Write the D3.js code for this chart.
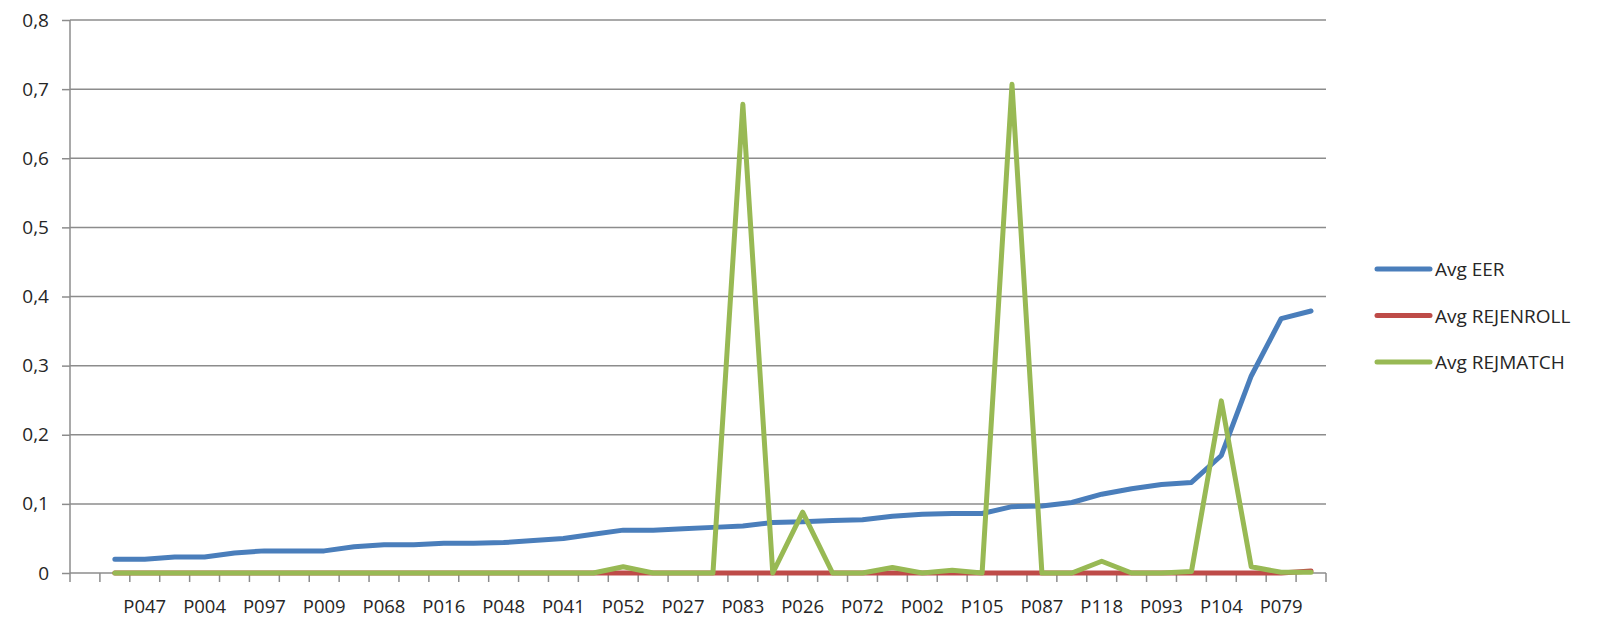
<!DOCTYPE html>
<html>
<head>
<meta charset="utf-8">
<script src="https://cdn.jsdelivr.net/npm/d3@7"></script>
<style>
  html, body { margin: 0; padding: 0; background: #fff; }
  svg { display: block; }
  text { font-family: "Open Sans", sans-serif; fill: #262626; }
</style>
</head>
<body>
<svg id="chart" width="1615" height="619"></svg>
<script>
// ---- data (index 0 is an empty category; odd labels are not shown on the axis) ----
const categories = ["", "", "P047", "", "P004", "", "P097", "", "P009", "", "P068", "", "P016", "", "P048", "", "P041", "",
  "P052", "", "P027", "", "P083", "", "P026", "", "P072", "", "P002", "", "P105", "", "P087", "", "P118", "",
  "P093", "", "P104", "", "P079", ""];
const avgEER = [null, 0.020, 0.020, 0.023, 0.023, 0.029, 0.032, 0.032, 0.032, 0.038, 0.041, 0.041, 0.043, 0.043,
  0.044, 0.047, 0.050, 0.056, 0.062, 0.062, 0.064, 0.066, 0.068, 0.073, 0.074, 0.076, 0.077, 0.082, 0.085,
  0.086, 0.086, 0.096, 0.097, 0.102, 0.114, 0.122, 0.128, 0.131, 0.170, 0.285, 0.368, 0.379];
const avgRejEnroll = [null, 0, 0, 0, 0, 0, 0, 0, 0, 0, 0, 0, 0, 0, 0, 0, 0, 0, 0, 0, 0, 0, 0, 0, 0, 0, 0, 0,
  0, 0, 0, 0, 0, 0, 0, 0, 0, 0, 0, 0, 0, 0.003];
const avgRejMatch = [null, 0, 0, 0, 0, 0, 0, 0, 0, 0, 0, 0, 0, 0, 0, 0, 0, 0, 0.009, 0, 0, 0, 0.678, 0, 0.088,
  0, 0, 0.008, 0, 0.004, 0, 0.707, 0, 0, 0.017, 0, 0, 0.002, 0.249, 0.009, 0.001, 0.001];
const yTicks = [0, 0.1, 0.2, 0.3, 0.4, 0.5, 0.6, 0.7, 0.8];
const seriesNames = ["Avg EER", "Avg REJENROLL", "Avg REJMATCH"];
const seriesColors = ["#4a7ebb", "#be4b48", "#98b954"];

(function () {
// ---- layout ----
const svg = d3.select("#chart");
const pLeft = 70, pRight = 1326, pTop = 20, pBottom = 573;

const x = d3.scaleBand().domain(d3.range(categories.length)).range([pLeft, pRight]).padding(0);
const y = d3.scaleLinear().domain([0, 0.8]).range([pBottom, pTop]);
const fmt = v => d3.format(".1f")(v).replace(".", ",");

// gridlines + y axis
const yAxis = d3.axisLeft(y).tickValues(yTicks).tickSize(8).tickPadding(13)
  .tickFormat(v => v === 0 ? "0" : fmt(v));
const gy = svg.append("g").attr("transform", `translate(${pLeft},0)`).call(yAxis);
gy.select(".domain").remove();
gy.selectAll(".tick line").attr("stroke", "#8c8c8c").attr("stroke-width", 1.5);
gy.selectAll(".tick text").style("font-size", "19px").style("font-family", "'Open Sans', sans-serif").attr("fill", "#262626");
svg.append("g").selectAll("line").data(yTicks).join("line")
  .attr("x1", pLeft).attr("x2", pRight)
  .attr("y1", d => y(d)).attr("y2", d => y(d))
  .attr("stroke", "#8c8c8c").attr("stroke-width", 1.5);
svg.append("line").attr("x1", pLeft).attr("x2", pLeft).attr("y1", pTop).attr("y2", pBottom)
  .attr("stroke", "#8c8c8c").attr("stroke-width", 1.5);

// x axis: tick marks at category boundaries, labels at category centres
const bounds = d3.range(categories.length + 1).map(i => pLeft + i * x.bandwidth());
svg.append("g").selectAll("line").data(bounds).join("line")
  .attr("x1", d => d).attr("x2", d => d).attr("y1", pBottom).attr("y2", pBottom + 9)
  .attr("stroke", "#8c8c8c").attr("stroke-width", 1.5);
svg.append("g").selectAll("text").data(categories.map((c, i) => ({c, i})).filter(d => d.c !== ""))
  .join("text")
  .attr("x", d => x(d.i) + x.bandwidth() / 2)
  .attr("y", 613)
  .attr("text-anchor", "middle")
  .style("font-size", "18.5px")
  .text(d => d.c);

// lines
const line = d3.line()
  .defined(d => d.v !== null)
  .x(d => x(d.i) + x.bandwidth() / 2)
  .y(d => y(d.v));
[avgEER, avgRejEnroll, avgRejMatch].forEach((arr, k) => {
  svg.append("path")
    .datum(arr.map((v, i) => ({v, i})))
    .attr("fill", "none")
    .attr("stroke", seriesColors[k])
    .attr("stroke-width", 5)
    .attr("stroke-linejoin", "round")
    .attr("stroke-linecap", "round")
    .attr("d", line);
});

// legend
const leg = svg.append("g");
seriesNames.forEach((n, k) => {
  const ly = 269 + k * 46.5;
  leg.append("line").attr("x1", 1377).attr("x2", 1430).attr("y1", ly).attr("y2", ly)
    .attr("stroke", seriesColors[k]).attr("stroke-width", 5).attr("stroke-linecap", "round");
  leg.append("text").attr("x", 1435).attr("y", ly + 7).style("font-size", "19px").text(n);
});
})();
</script>
</body>
</html>
